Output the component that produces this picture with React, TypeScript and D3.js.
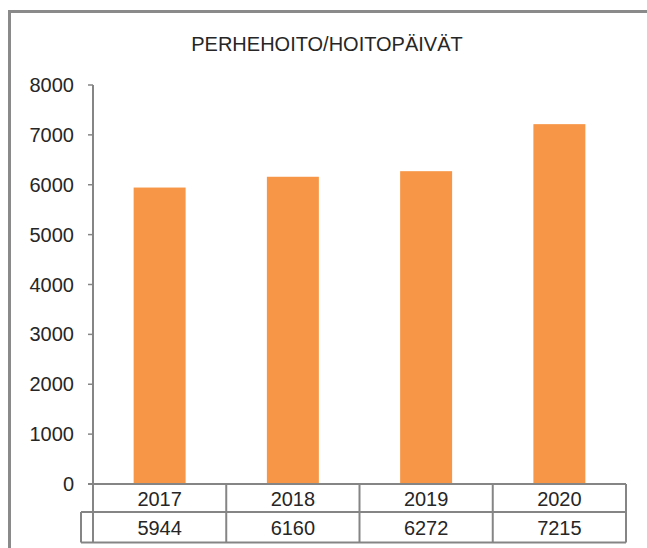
import React from "react";
import * as d3 from "d3";

const categories: string[] = ["2017", "2018", "2019", "2020"];
const values: number[] = [5944, 6160, 6272, 7215];
const yTicks: number[] = [0, 1000, 2000, 3000, 4000, 5000, 6000, 7000, 8000];
const title = "PERHEHOITO/HOITOPÄIVÄT";

const W = 647;
const H = 548;
const FONT = "'Liberation Sans', Arial, sans-serif";

export default function App() {
  const plotLeft = 93;
  const plotRight = 626;
  const zeroY = 484;
  const topY = 85;
  const row1Bottom = 512;
  const row2Bottom = 542.5;
  const row2Left = 81;

  const x = d3.scaleBand<string>().domain(categories).range([plotLeft, plotRight]).padding(0);
  const y = d3.scaleLinear().domain([0, 8000]).range([zeroY, topY]);
  const barW = x.bandwidth() * 0.39;
  const gray = "#858585";
  const textColor = "#262626";

  return (
    <svg
      width={W}
      height={H}
      style={{ position: "absolute", left: 0, top: 0, background: "#fff" }}
      fontFamily={FONT}
    >
      <rect x={0} y={0} width={W} height={H} fill="#fff" />
      {/* outer frame (left + top visible) */}
      <line x1={9.5} y1={11} x2={9.5} y2={H} stroke="#8a8a8a" strokeWidth={3} />
      <line x1={8} y1={11.5} x2={W} y2={11.5} stroke="#8a8a8a" strokeWidth={3} />

      <text x={327} y={51} textAnchor="middle" fontSize={20} fill={textColor}>
        {title}
      </text>

      {/* bars */}
      {categories.map((c, i) => {
        const cx = (x(c) as number) + x.bandwidth() / 2;
        return (
          <rect
            key={c}
            x={cx - barW / 2}
            y={y(values[i])}
            width={barW}
            height={zeroY - y(values[i])}
            fill="#F79646"
          />
        );
      })}

      {/* y axis */}
      <line x1={plotLeft} y1={topY} x2={plotLeft} y2={row2Bottom} stroke={gray} strokeWidth={2} />
      {yTicks.map((t) => (
        <g key={t}>
          <line x1={plotLeft - 5} y1={y(t)} x2={plotLeft} y2={y(t)} stroke={gray} strokeWidth={1.5} />
          <text x={74} y={y(t) + 7} textAnchor="end" fontSize={20} fill={textColor}>
            {t}
          </text>
        </g>
      ))}

      {/* data table */}
      <line x1={plotLeft - 5} y1={zeroY} x2={plotRight} y2={zeroY} stroke={gray} strokeWidth={2} />
      <line x1={row2Left} y1={row1Bottom} x2={plotRight} y2={row1Bottom} stroke={gray} strokeWidth={2} />
      <line x1={row2Left} y1={row2Bottom} x2={plotRight} y2={row2Bottom} stroke={gray} strokeWidth={2} />
      <line x1={row2Left} y1={row1Bottom} x2={row2Left} y2={row2Bottom} stroke={gray} strokeWidth={2} />
      {categories.map((c) => (
        <line
          key={"d" + c}
          x1={(x(c) as number) + x.bandwidth()}
          y1={zeroY}
          x2={(x(c) as number) + x.bandwidth()}
          y2={row2Bottom}
          stroke={gray}
          strokeWidth={2}
        />
      ))}
      {categories.map((c, i) => {
        const cx = (x(c) as number) + x.bandwidth() / 2;
        return (
          <g key={"t" + c}>
            <text x={cx} y={506} textAnchor="middle" fontSize={20} fill={textColor}>
              {c}
            </text>
            <text x={cx} y={535} textAnchor="middle" fontSize={20} fill={textColor}>
              {values[i]}
            </text>
          </g>
        );
      })}
    </svg>
  );
}
